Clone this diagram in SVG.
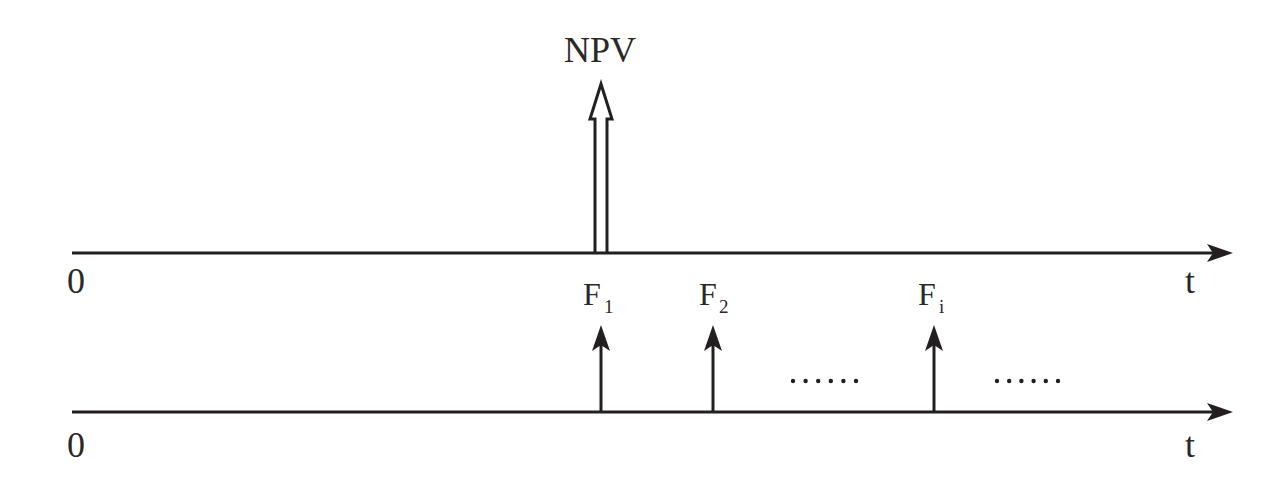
<svg xmlns="http://www.w3.org/2000/svg" width="1266" height="498" viewBox="0 0 1266 498">
<style>
.ax{stroke:#231f20;stroke-width:3;fill:none}
.tx{font-family:"Liberation Serif",serif;fill:#2b2829}
.big{font-size:36px}
.f{font-size:32px}
.sub{font-size:19px}
.dot{fill:#231f20}
</style>
<defs>
<marker id="ah" markerUnits="userSpaceOnUse" viewBox="0 0 26 18" refX="6" refY="9" markerWidth="26" markerHeight="18" orient="auto">
<path d="M0,0 L26,9 L0,18 L6,9 Z" fill="#231f20"/>
</marker>
</defs>
<g id="connectors">
<line class="ax" x1="72" y1="253" x2="1213" y2="253" marker-end="url(#ah)"/>
<line class="ax" x1="72" y1="412" x2="1213" y2="412" marker-end="url(#ah)"/>
<line class="ax" x1="601" y1="412" x2="601" y2="345" marker-end="url(#ah)"/>
<line class="ax" x1="713" y1="412" x2="713" y2="345" marker-end="url(#ah)"/>
<line class="ax" x1="934" y1="412" x2="934" y2="345" marker-end="url(#ah)"/>
<path class="ax" stroke-width="2.6" stroke-linejoin="miter" d="M595,253 L595,119 L590,119 L601,84 L612,119 L607,119 L607,253"/>
</g>
<g id="npv"><text class="tx big" x="600" y="62" text-anchor="middle">NPV</text></g>
<g id="zero1"><text class="tx big" x="67" y="293">0</text></g>
<g id="zero2"><text class="tx big" x="67" y="457">0</text></g>
<g id="t1"><text class="tx big" x="1185" y="293">t</text></g>
<g id="t2"><text class="tx big" x="1185" y="457">t</text></g>
<g id="f1"><text class="tx f" x="583" y="305">F</text><text class="tx sub" x="604" y="313">1</text></g>
<g id="f2"><text class="tx f" x="699" y="305">F</text><text class="tx sub" x="719" y="313">2</text></g>
<g id="fi"><text class="tx f" x="918" y="305">F</text><text class="tx sub" x="939" y="313">i</text></g>
<g id="dots1">
<circle class="dot" cx="793" cy="381" r="2.2"/><circle class="dot" cx="805.6" cy="381" r="2.2"/><circle class="dot" cx="818.2" cy="381" r="2.2"/><circle class="dot" cx="830.8" cy="381" r="2.2"/><circle class="dot" cx="843.4" cy="381" r="2.2"/><circle class="dot" cx="856" cy="381" r="2.2"/>
</g>
<g id="dots2">
<circle class="dot" cx="997" cy="381" r="2.2"/><circle class="dot" cx="1009.2" cy="381" r="2.2"/><circle class="dot" cx="1021.4" cy="381" r="2.2"/><circle class="dot" cx="1033.6" cy="381" r="2.2"/><circle class="dot" cx="1045.8" cy="381" r="2.2"/><circle class="dot" cx="1058" cy="381" r="2.2"/>
</g>
</svg>
